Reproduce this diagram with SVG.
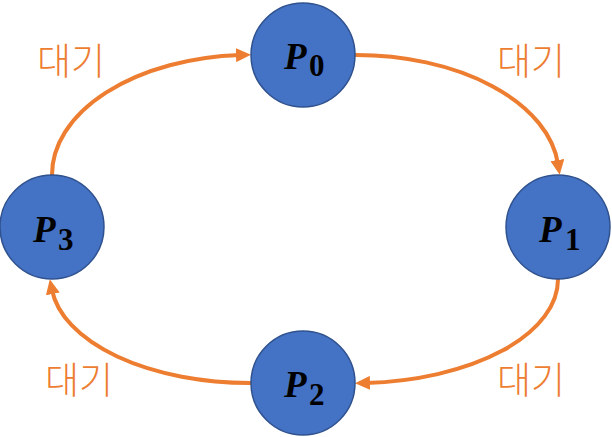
<svg xmlns="http://www.w3.org/2000/svg" width="612" height="437" viewBox="0 0 612 437">
<defs>
<style>
.node{fill:#4472C4;stroke:#2F528F;stroke-width:1.5}
.conn{fill:none;stroke:#ED7D31;stroke-width:4}
.lbl{font-family:"Noto Sans CJK KR","Noto Sans",sans-serif;font-size:37px;fill:#ED7D31;text-anchor:middle;font-weight:300}
.p{font-family:"Liberation Serif","DejaVu Serif",serif;font-weight:bold;fill:#000}
.pi{font-style:italic;font-size:37px}
.ps{font-size:31px}
</style>
<marker id="ah" markerUnits="userSpaceOnUse" markerWidth="16" markerHeight="14" refX="4" refY="7" orient="auto">
<path d="M0,0 L15,7 L0,14 Z" fill="#ED7D31"/>
</marker>
</defs>
<g id="connectors">
<path class="conn" d="M52,175 A199 120 0 0 1 240,55" marker-end="url(#ah)"/>
<path class="conn" d="M355,55 A203 120 0 0 1 558,164" marker-end="url(#ah)"/>
<path class="conn" d="M558,279 A203 104 0 0 1 366,383" marker-end="url(#ah)"/>
<path class="conn" d="M251,383 A199 104 0 0 1 52,290" marker-end="url(#ah)"/>
</g>
<g id="label-tl"><text class="lbl" x="71" y="75">대기</text></g>
<g id="label-tr"><text class="lbl" x="531" y="75">대기</text></g>
<g id="label-bl"><text class="lbl" x="79" y="394">대기</text></g>
<g id="label-br"><text class="lbl" x="531" y="394">대기</text></g>
<g id="P0">
<circle class="node" cx="303" cy="55" r="52"/>
<text class="p"><tspan class="pi" x="284" y="69">P</tspan><tspan class="ps" x="309" y="76">0</tspan></text>
</g>
<g id="P1">
<circle class="node" cx="558" cy="227" r="52"/>
<text class="p"><tspan class="pi" x="539" y="242">P</tspan><tspan class="ps" x="565" y="250">1</tspan></text>
</g>
<g id="P2">
<circle class="node" cx="303" cy="383" r="52"/>
<text class="p"><tspan class="pi" x="284" y="397">P</tspan><tspan class="ps" x="309" y="405">2</tspan></text>
</g>
<g id="P3">
<circle class="node" cx="52" cy="227" r="52"/>
<text class="p"><tspan class="pi" x="33" y="242">P</tspan><tspan class="ps" x="58" y="250">3</tspan></text>
</g>
</svg>
